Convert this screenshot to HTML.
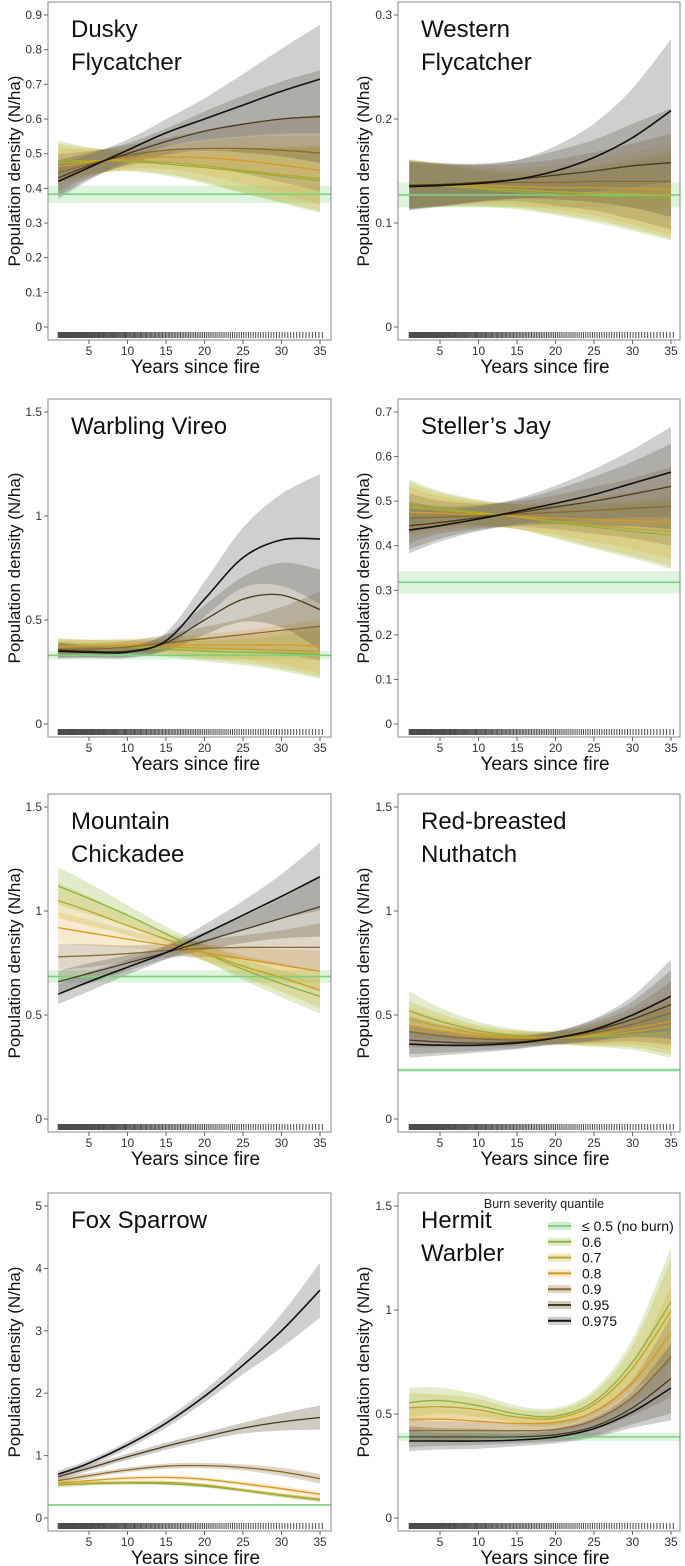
<!DOCTYPE html>
<html><head><meta charset="utf-8"><style>
body{margin:0;background:#fff;}
svg{display:block;font-family:"Liberation Sans",sans-serif;}
</style></head><body>
<svg id="fig" width="685" height="1566" viewBox="0 0 685 1566"></svg>
<script>
const years=[1,5,10,15,20,25,30,35];
const seriesNames=["0.6","0.7","0.8","0.9","0.95","0.975"];
const dusky=[[0.48,0.48,0.478,0.47,0.46,0.448,0.435,0.422],[0.472,0.478,0.48,0.475,0.465,0.452,0.44,0.428],[0.462,0.475,0.485,0.49,0.488,0.48,0.467,0.452],[0.445,0.47,0.495,0.51,0.515,0.515,0.51,0.502],[0.43,0.465,0.50,0.535,0.565,0.585,0.60,0.607],[0.42,0.46,0.51,0.56,0.60,0.64,0.68,0.715]];
const western=[[0.138,0.136,0.133,0.130,0.128,0.126,0.125,0.124],[0.137,0.136,0.134,0.132,0.130,0.129,0.128,0.127],[0.137,0.137,0.136,0.135,0.134,0.134,0.133,0.132],[0.137,0.137,0.138,0.139,0.139,0.140,0.140,0.140],[0.136,0.137,0.139,0.142,0.146,0.150,0.155,0.158],[0.135,0.136,0.138,0.142,0.150,0.163,0.182,0.208]];
const warbling=[[0.375,0.375,0.37,0.36,0.35,0.345,0.34,0.335],[0.37,0.375,0.375,0.37,0.365,0.36,0.355,0.35],[0.37,0.375,0.38,0.38,0.38,0.38,0.38,0.375],[0.36,0.36,0.37,0.39,0.41,0.43,0.45,0.47],[0.355,0.35,0.35,0.39,0.50,0.60,0.62,0.55],[0.35,0.345,0.345,0.40,0.60,0.80,0.885,0.89]];
const steller=[[0.49,0.484,0.475,0.465,0.452,0.442,0.432,0.424],[0.485,0.480,0.473,0.465,0.455,0.446,0.438,0.432],[0.475,0.473,0.470,0.466,0.462,0.459,0.456,0.453],[0.462,0.464,0.467,0.471,0.475,0.479,0.484,0.488],[0.445,0.452,0.463,0.474,0.487,0.500,0.516,0.533],[0.435,0.445,0.46,0.477,0.495,0.515,0.54,0.565]];
const mountain=[[1.12,1.06,0.98,0.89,0.80,0.72,0.65,0.59],[1.05,1.00,0.93,0.865,0.80,0.735,0.68,0.62],[0.92,0.895,0.865,0.835,0.80,0.77,0.74,0.71],[0.78,0.785,0.795,0.81,0.82,0.825,0.825,0.825],[0.66,0.70,0.75,0.80,0.855,0.91,0.965,1.02],[0.60,0.66,0.73,0.80,0.89,0.98,1.07,1.165]];
const nuthatch=[[0.52,0.47,0.425,0.40,0.39,0.395,0.405,0.42],[0.48,0.445,0.41,0.395,0.39,0.40,0.42,0.445],[0.45,0.425,0.40,0.39,0.39,0.405,0.435,0.47],[0.42,0.40,0.385,0.38,0.39,0.415,0.455,0.51],[0.38,0.37,0.365,0.37,0.39,0.425,0.48,0.55],[0.36,0.355,0.355,0.365,0.39,0.43,0.50,0.59]];
const fox=[[0.53,0.55,0.56,0.55,0.51,0.44,0.36,0.29],[0.54,0.56,0.57,0.57,0.53,0.45,0.37,0.30],[0.56,0.60,0.64,0.65,0.62,0.55,0.47,0.38],[0.60,0.68,0.77,0.83,0.84,0.81,0.74,0.63],[0.66,0.80,0.98,1.15,1.30,1.44,1.54,1.61],[0.70,0.88,1.17,1.52,1.95,2.45,3.0,3.65]];
const hermit=[[0.555,0.565,0.54,0.50,0.49,0.56,0.75,1.04],[0.53,0.535,0.52,0.485,0.48,0.545,0.72,0.995],[0.475,0.475,0.465,0.455,0.46,0.51,0.65,0.89],[0.42,0.42,0.42,0.42,0.425,0.47,0.58,0.775],[0.39,0.39,0.39,0.39,0.40,0.44,0.53,0.67],[0.37,0.37,0.37,0.375,0.39,0.43,0.51,0.625]];
const noBurn=[0.383,0.127,0.33,0.318,0.685,0.235,0.21,0.39];
const noBurnHW=[0.025,0.012,0.02,0.025,0.03,0.01,0.012,0.02];
const relHW=[[0.12,0.08,0.06,0.07,0.1,0.14,0.18,0.22],[0.17,0.15,0.13,0.13,0.16,0.2,0.26,0.33],[0.1,0.08,0.08,0.1,0.14,0.18,0.25,0.35],[0.12,0.08,0.06,0.06,0.08,0.11,0.14,0.18],[0.08,0.07,0.05,0.04,0.05,0.07,0.1,0.14],[0.18,0.14,0.1,0.08,0.08,0.12,0.18,0.3],[0.08,0.06,0.05,0.05,0.05,0.06,0.09,0.12],[0.13,0.11,0.1,0.08,0.08,0.1,0.15,0.25]];
const yTicks=[[0,0.1,0.2,0.3,0.4,0.5,0.6,0.7,0.8,0.9],[0,0.1,0.2,0.3],[0,0.5,1,1.5],[0,0.1,0.2,0.3,0.4,0.5,0.6,0.7],[0,0.5,1,1.5],[0,0.5,1,1.5],[0,1,2,3,4,5],[0,0.5,1,1.5]];
const xTicks=[5,10,15,20,25,30,35];
const titles=[["Dusky","Flycatcher"],["Western","Flycatcher"],["Warbling Vireo"],["Steller\u2019s Jay"],["Mountain","Chickadee"],["Red-breasted","Nuthatch"],["Fox Sparrow"],["Hermit","Warbler"]];
const panelData=[dusky,western,warbling,steller,mountain,nuthatch,fox,hermit];

const lineCol=["#8db040","#bba62a","#d9981c","#8a6a2c","#4a3a1c","#111111"];
const bandCol=["rgba(150,185,70,0.28)","rgba(200,180,60,0.30)","rgba(225,170,60,0.25)","rgba(150,120,70,0.30)","rgba(95,85,60,0.30)","rgba(110,110,110,0.33)"];
const NS="http://www.w3.org/2000/svg";
const fig=document.getElementById('fig');
function el(t,a,p){const e=document.createElementNS(NS,t);for(const k in a)e.setAttribute(k,a[k]);(p||fig).appendChild(e);return e;}
function spline(pts){let d="M"+pts[0][0].toFixed(1)+","+pts[0][1].toFixed(1);
 for(let i=0;i<pts.length-1;i++){const p0=pts[Math.max(0,i-1)],p1=pts[i],p2=pts[i+1],p3=pts[Math.min(pts.length-1,i+2)];
 const c1=[p1[0]+(p2[0]-p0[0])/6,p1[1]+(p2[1]-p0[1])/6],c2=[p2[0]-(p3[0]-p1[0])/6,p2[1]-(p3[1]-p1[1])/6];
 d+="C"+c1[0].toFixed(1)+","+c1[1].toFixed(1)+" "+c2[0].toFixed(1)+","+c2[1].toFixed(1)+" "+p2[0].toFixed(1)+","+p2[1].toFixed(1);}
 return d;}
const rowsT=[2,399,794,1193];
for(let p=0;p<8;p++){
 const col=p%2,row=Math.floor(p/2);
 const L=col?398:48,R=col?680:331,T=rowsT[row],B=T+338;
 const x1=col?409.2:58.2;
 const xs=v=>x1+(v-1)*7.7;
 const ticks=yTicks[p],ymax=ticks[ticks.length-1];
 const y0=B-13,yt=T+13;
 const ys=v=>y0-(v/ymax)*(y0-yt);
 const g=el('g',{});
 
 
 const cp=el('clipPath',{id:'c'+p},g);el('rect',{x:L,y:T,width:R-L,height:B-T},cp);
 const plot=el('g',{'clip-path':'url(#c'+p+')'},g);
 const nb=el('rect',{x:L,y:ys(noBurn[p]+noBurnHW[p]),width:R-L,height:ys(noBurn[p]-noBurnHW[p])-ys(noBurn[p]+noBurnHW[p]),fill:'rgba(120,210,120,0.25)'},plot);
 
 
 const data=panelData[p];
 for(let s=0;s<6;s++){
  const up=years.map((x,i)=>[xs(x),ys(data[s][i]*(1+relHW[p][i]))]);
  const lo=years.map((x,i)=>[xs(x),ys(data[s][i]*(1-relHW[p][i]))]).reverse();
  const dd=spline(up)+"L"+spline(lo).slice(1)+"Z";
  const b=el('path',{d:dd,fill:bandCol[s],stroke:'none'},plot);
  
  
 }
 const nbl=el('line',{x1:L,x2:R,y1:ys(noBurn[p]),y2:ys(noBurn[p]),stroke:'#7fd07f','stroke-width':1.6},plot);
 
 
 for(let s=0;s<6;s++){
  const l=el('path',{d:spline(years.map((x,i)=>[xs(x),ys(data[s][i])])),fill:'none',stroke:lineCol[s],'stroke-width':s==5?1.6:1.3},plot);
  
  
 }
 const rug=el('g',{stroke:'#4a4a4a','stroke-width':1},g);
 
 
 for(let t=1;t<=35.4;t+=0.09+Math.pow(t/35,1.5)*0.35){el('line',{x1:xs(t),x2:xs(t),y1:y0+5,y2:B-2},rug);}
 const box=el('rect',{x:L,y:T,width:R-L,height:B-T,fill:'none',stroke:'#888','stroke-width':1},g);
 
 
 for(const v of ticks){el('line',{x1:L-4,x2:L,y1:ys(v),y2:ys(v),stroke:'#666'},g);
  const tx=el('text',{x:L-6,y:ys(v)+4,'text-anchor':'end','font-size':12,fill:'#333'},g);tx.textContent=String(v);
  
  }
 for(const v of xTicks){el('line',{x1:xs(v),x2:xs(v),y1:B,y2:B+4,stroke:'#666'},g);
  const tx=el('text',{x:xs(v),y:B+15,'text-anchor':'middle','font-size':12,fill:'#333'},g);tx.textContent=String(v);
  
  }
 const xt=el('text',{x:(L+R)/2+6,y:B+33,'text-anchor':'middle','font-size':19,fill:'#111'},g);xt.textContent="Years since fire";
 
 
 const cx=col?363:14,cy=(T+B)/2;
 const yt2=el('text',{x:cx,y:cy,'text-anchor':'middle','font-size':17,fill:'#111',transform:'rotate(-90 '+cx+' '+cy+') translate(0 6)'},g);yt2.textContent="Population density (N/ha)";
 
 
 titles[p].forEach((t,i)=>{const tt=el('text',{x:L+23,y:T+35+i*33,'font-size':24,fill:'#111'},g);tt.textContent=t;
  
  });
}
const legNames=["\u2264 0.5 (no burn)","0.6","0.7","0.8","0.9","0.95","0.975"];
const legLine=["#7fd07f"].concat(lineCol);
const legBand=["rgba(120,210,120,0.35)"].concat(bandCol);
const lg=el('g',{});


const lt=el('text',{x:544,y:1208,'text-anchor':'middle','font-size':12.5,fill:'#222'},lg);lt.textContent="Burn severity quantile";
legNames.forEach((n,i)=>{const y=1226+i*15.8;
 const e=el('g',{},lg);
 
 
 el('rect',{x:548,y:y-4,width:23,height:8,fill:legBand[i]},e);
 el('line',{x1:548,x2:571,y1:y,y2:y,stroke:legLine[i],'stroke-width':2},e);
 const t=el('text',{x:582,y:y+5,'font-size':14,fill:'#111'},e);t.textContent=n;});
</script>
</body></html>
